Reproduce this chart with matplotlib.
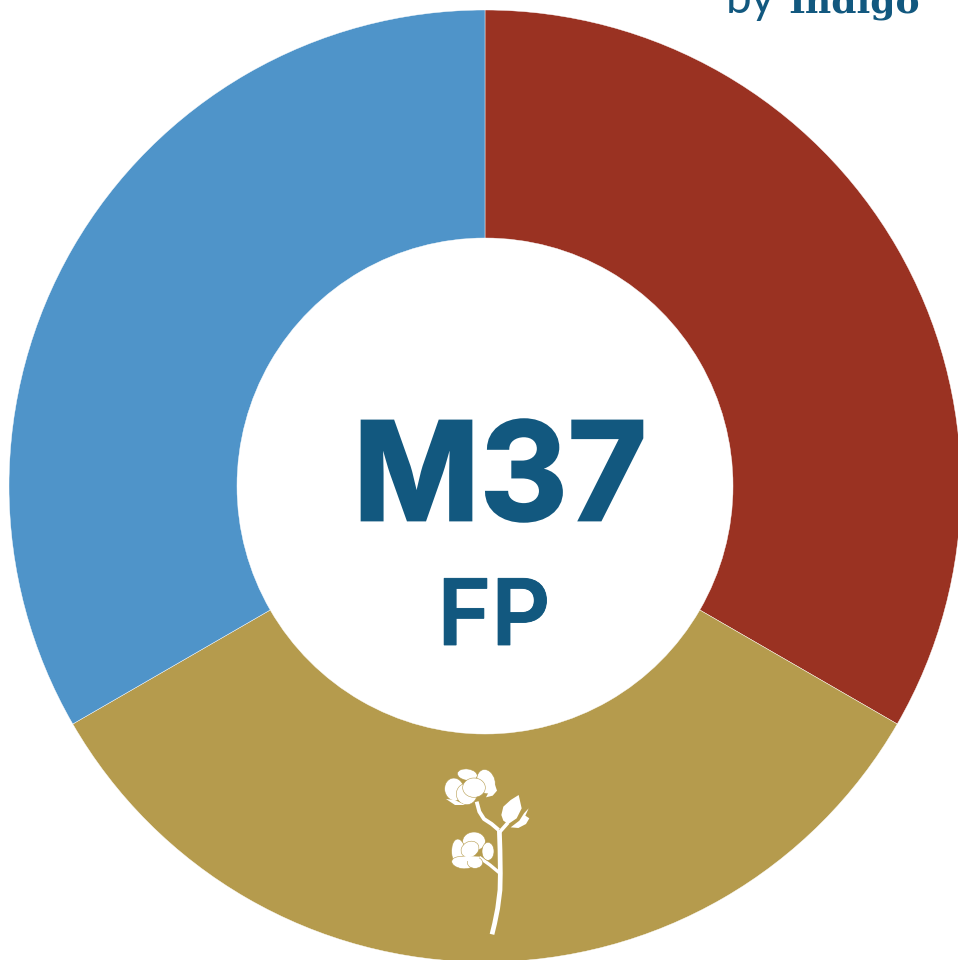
import matplotlib
matplotlib.use('Agg')
import matplotlib.pyplot as plt
import matplotlib.patheffects as pe
from matplotlib.patches import Ellipse, Polygon, PathPatch
from matplotlib.path import Path

W, H = 958, 960
shares = [1, 1, 1]
colors = ['#9A3222', '#B59B4D', '#4F94C9']
title = 'M37'
subtitle = 'FP'
brand_by = 'by'
brand_name = 'Indigo'
INK = '#12587F'
GOLD = '#B59B4D'

fig = plt.figure(figsize=(W / 100, H / 100), dpi=100)
ax = fig.add_axes([0, 0, 1, 1])
ax.pie(shares, colors=colors, startangle=90, counterclock=False,
       center=(485, H - 486), radius=476,
       wedgeprops=dict(width=476 - 248, edgecolor='white', linewidth=0.3),
       frame=False)
ax.set_xlim(0, W)
ax.set_ylim(0, H)
ax.set_aspect('equal')
ax.axis('off')

ax.text(500, H - 520, title, fontsize=98, fontfamily='Inter', fontweight='bold',
        color=INK, ha='center', va='baseline',
        path_effects=[pe.withStroke(linewidth=2, foreground=INK, joinstyle='miter')])
ax.text(494, H - 645, subtitle, fontsize=66, fontfamily='Inter', fontweight='semibold',
        color=INK, ha='center', va='baseline',
        path_effects=[pe.withStroke(linewidth=0.6, foreground=INK, joinstyle='miter')])
ax.text(726, H - 13, brand_by, fontsize=33, fontfamily='Lato', color=INK, ha='left', va='baseline')
ax.text(788, H - 13, brand_name, fontsize=26, fontfamily='DejaVu Serif', fontweight='bold',
        color=INK, ha='left', va='baseline')


# cotton icon, sketched in the 3x zoom space of the crop at (420, 750)
def pt(x, y):
    return (420 + x / 3, H - (750 + y / 3))


def stem(points, lw):
    verts = [pt(*p) for p in points]
    codes = [Path.MOVETO] + [Path.LINETO] * (len(verts) - 1)
    ax.add_patch(PathPatch(Path(verts, codes), fill=False, edgecolor='white',
                           linewidth=lw, capstyle='butt', joinstyle='round'))


def petal(x, y, w, h, angle=0):
    ax.add_patch(Ellipse(pt(x, y), w / 3, h / 3, angle=angle, facecolor='white',
                         edgecolor=GOLD, linewidth=0.4))


def blob(points):
    ax.add_patch(Polygon([pt(*p) for p in points], closed=True, facecolor='white',
                         edgecolor='none'))


stem([(216, 553), (224, 520), (233, 475), (240, 420), (241, 370), (240, 300), (238, 240)], 3.4)
stem([(170, 155), (178, 185), (192, 207), (215, 222), (236, 240)], 2.8)
stem([(240, 245), (264, 218)], 2.6)
stem([(178, 322), (210, 345), (240, 370)], 2.4)

# upper flower
petal(142, 74, 60, 34, -8)
petal(198, 95, 54, 74, 15)
petal(103, 118, 58, 68, 10)
petal(140, 132, 62, 64, 0)
petal(162, 113, 68, 58, 0)
blob([(78, 147), (105, 150), (135, 165), (105, 165)])
blob([(198, 142), (222, 95), (231, 122), (218, 137)])

# bud and its sepal
blob([(244, 195), (250, 170), (272, 150), (296, 135), (305, 175), (290, 205),
      (265, 222), (250, 212)])
blob([(272, 232), (298, 212), (312, 190), (326, 175), (316, 197), (328, 205),
      (318, 222), (295, 234)])

# lower flower
petal(162, 274, 68, 56, 0)
petal(116, 308, 42, 82, 5)
petal(204, 304, 36, 54, 0)
petal(128, 338, 66, 36, -8)
petal(165, 338, 46, 34, 0)
petal(150, 298, 56, 46, 30)
blob([(100, 328), (140, 318), (180, 320), (170, 332), (130, 334)])

fig.savefig('out.png', dpi=100, facecolor='white')
